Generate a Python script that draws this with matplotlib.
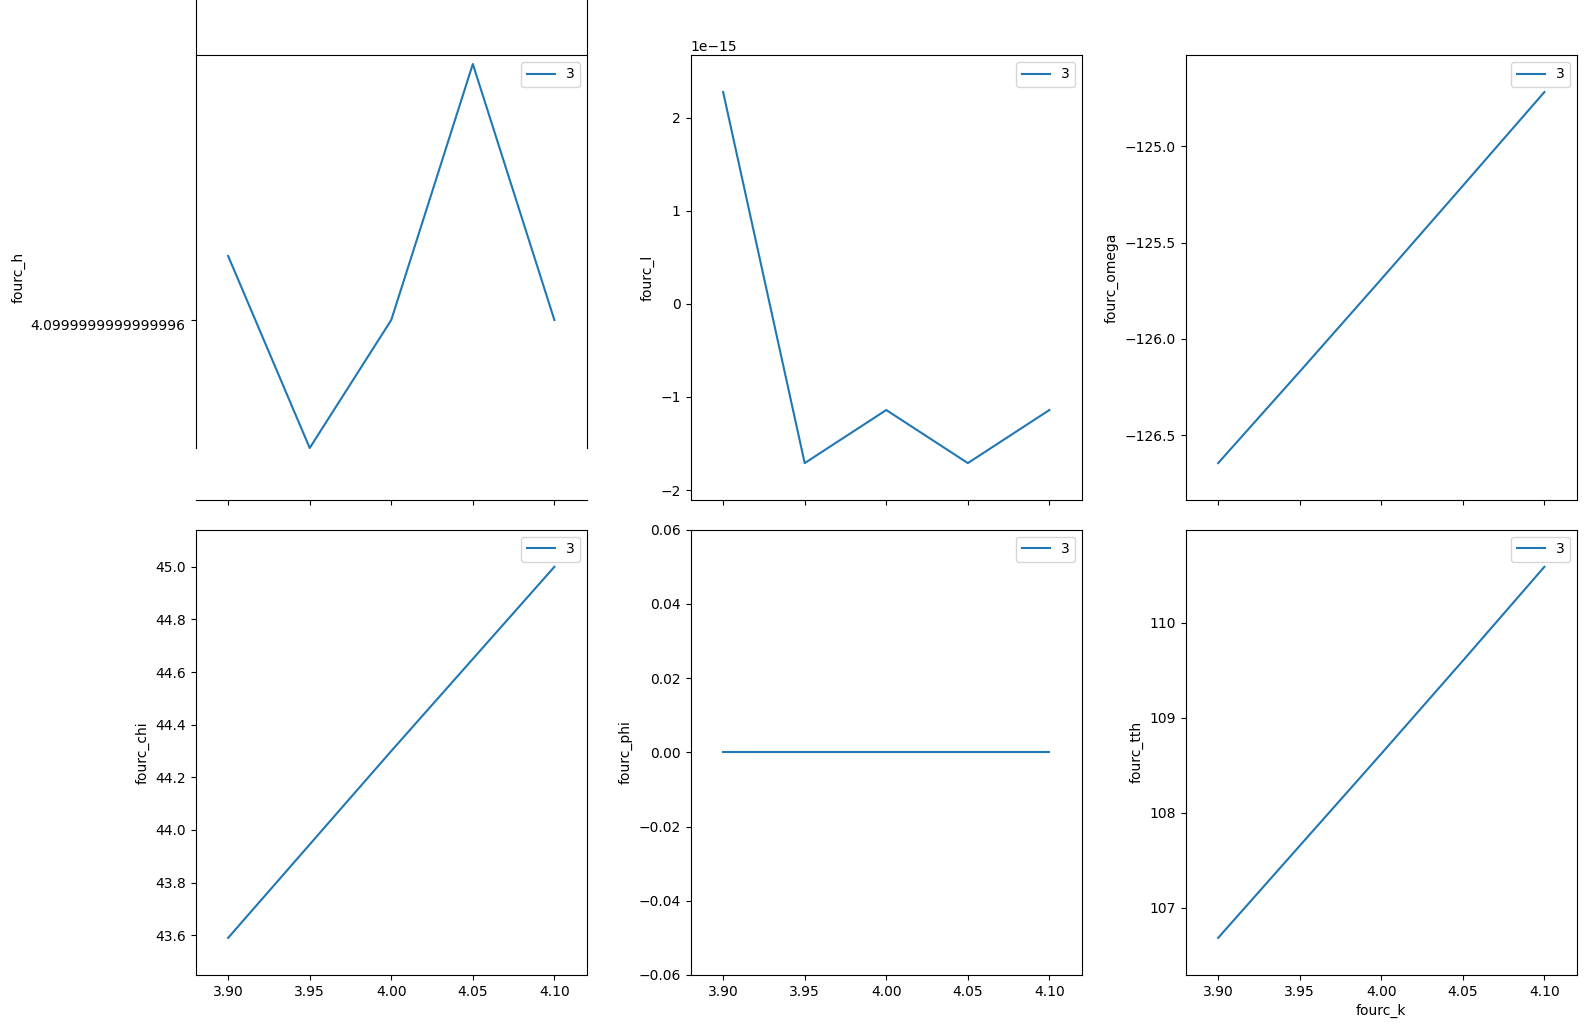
import matplotlib
matplotlib.use("Agg")
import matplotlib.pyplot as plt

fourc_k = [3.9, 3.95, 4.0, 4.05, 4.1]
fourc_h = [4.1000000000000005, 4.099999999999998, 4.1, 4.100000000000002, 4.1]
fourc_l = [2.275e-15, -1.71e-15, -1.14e-15, -1.71e-15, -1.14e-15]
fourc_omega = [-126.645, -126.170, -125.690, -125.205, -124.718]
fourc_chi = [43.590, 43.945, 44.300, 44.650, 45.0]
fourc_phi = [0.0, 0.0, 0.0, 0.0, 0.0]
fourc_tth = [106.680, 107.650, 108.620, 109.600, 110.590]

series = [
    ("fourc_h", fourc_h),
    ("fourc_l", fourc_l),
    ("fourc_omega", fourc_omega),
    ("fourc_chi", fourc_chi),
    ("fourc_phi", fourc_phi),
    ("fourc_tth", fourc_tth),
]

fig, axes = plt.subplots(2, 3, sharex=True, figsize=(15.87, 10.29), dpi=100)
for ax, (name, vals) in zip(axes.flat, series):
    ax.margins(0.1)
    ax.plot(fourc_k, vals, label="3")
    ax.set_ylabel(name)
    ax.legend(loc="upper right")
axes[1, 2].set_xlabel("fourc_k")

fig.subplots_adjust(left=0.1232, right=0.9937, top=0.9466, bottom=0.0525,
                    wspace=0.2644, hspace=0.0663)
fig.savefig("out.png")
